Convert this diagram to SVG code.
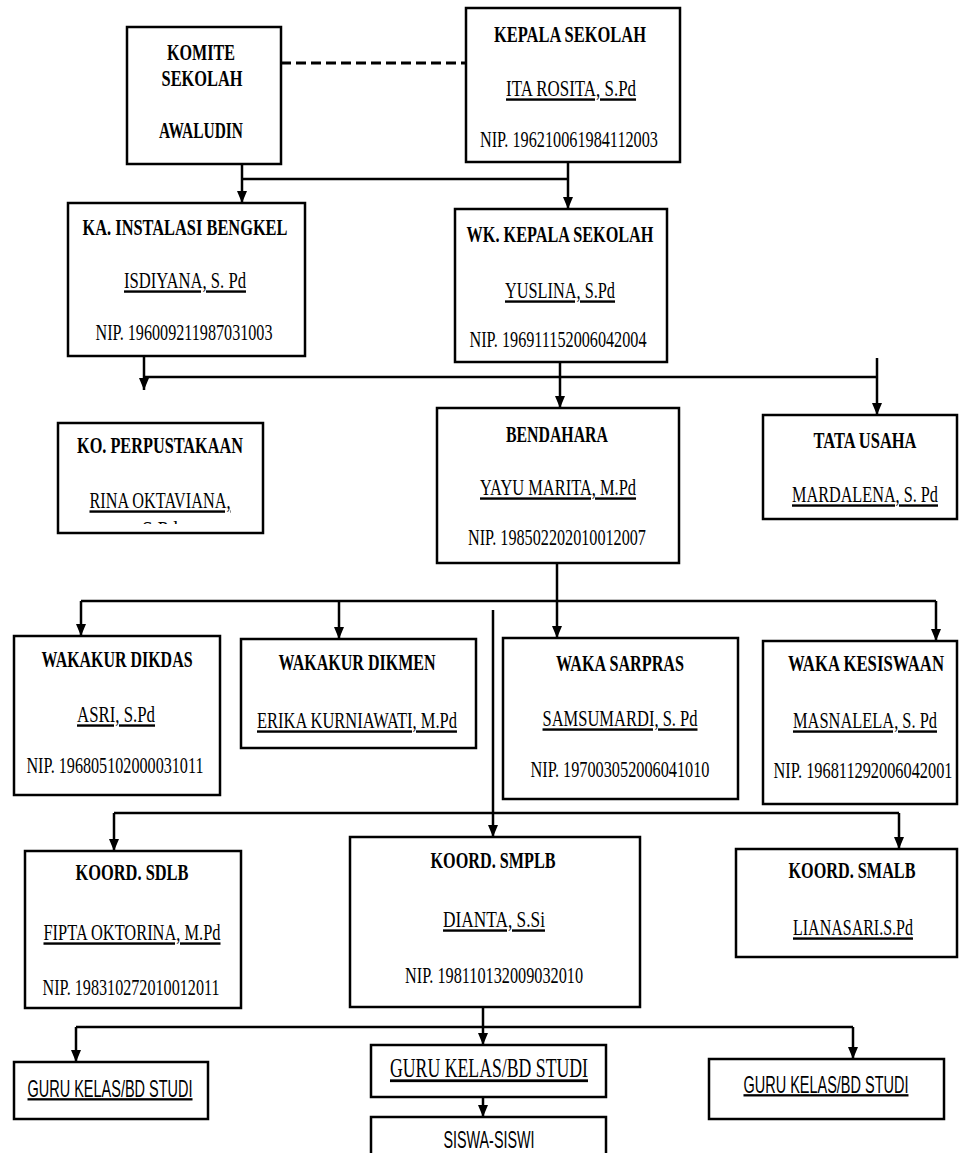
<svg xmlns="http://www.w3.org/2000/svg" width="962" height="1153" viewBox="0 0 962 1153">
<style>
.box{fill:#fff;stroke:#000;stroke-width:2.5}
.t{font-family:"Liberation Serif","Times New Roman",serif;font-size:24px;text-anchor:middle;fill:#000}
.b{font-weight:bold}
.u{text-decoration:underline}
.s{font-family:"Liberation Sans",Arial,sans-serif;font-size:23px;text-anchor:middle;fill:#000}
.c{fill:none;stroke:#000;stroke-width:2.5}
.d{fill:none;stroke:#000;stroke-width:3;stroke-dasharray:10 5}
</style>
<defs>
<marker id="ah" viewBox="0 0 12 10" refX="12" refY="5" markerWidth="12" markerHeight="10" markerUnits="userSpaceOnUse" orient="auto">
<path d="M0,0 L12,5 L0,10 z" fill="#000"/>
</marker>
<clipPath id="koclip"><rect x="88" y="423" width="310" height="101"/></clipPath>
</defs>
<rect width="962" height="1153" fill="#fff"/>

<g id="connectors">
<path class="d" d="M281,63 H466"/>
<path class="c" d="M242,164 V203" marker-end="url(#ah)"/>
<path class="c" d="M242,179 H568"/>
<path class="c" d="M568,162 V209" marker-end="url(#ah)"/>
<path class="c" d="M144,356 V390" marker-end="url(#ah)"/>
<path class="c" d="M144,377 H877"/>
<path class="c" d="M560,362 V408" marker-end="url(#ah)"/>
<path class="c" d="M877,358 V415" marker-end="url(#ah)"/>
<path class="c" d="M557,563 V638" marker-end="url(#ah)"/>
<path class="c" d="M81,601 H936"/>
<path class="c" d="M81,601 V636" marker-end="url(#ah)"/>
<path class="c" d="M339,601 V639" marker-end="url(#ah)"/>
<path class="c" d="M936,601 V641" marker-end="url(#ah)"/>
<path class="c" d="M493,610 V837" marker-end="url(#ah)"/>
<path class="c" d="M114,813 H899"/>
<path class="c" d="M114,813 V851" marker-end="url(#ah)"/>
<path class="c" d="M899,813 V849" marker-end="url(#ah)"/>
<path class="c" d="M483,1007 V1045" marker-end="url(#ah)"/>
<path class="c" d="M76,1027 H853"/>
<path class="c" d="M76,1027 V1062" marker-end="url(#ah)"/>
<path class="c" d="M853,1027 V1059" marker-end="url(#ah)"/>
<path class="c" d="M483,1097 V1117" marker-end="url(#ah)"/>
</g>

<g id="komite">
<rect class="box" x="127" y="27" width="154" height="137"/>
<g transform="scale(0.66 1)">
<text class="t b" x="304.5" y="60" textLength="103" lengthAdjust="spacingAndGlyphs">KOMITE</text>
<text class="t b" x="306.1" y="86" textLength="122.7" lengthAdjust="spacingAndGlyphs">SEKOLAH</text>
<text class="t b" x="304.5" y="138" textLength="127.3" lengthAdjust="spacingAndGlyphs">AWALUDIN</text>
</g>
</g>

<g id="kepala">
<rect class="box" x="466" y="8" width="214" height="154"/>
<g transform="scale(0.66 1)">
<text class="t b" x="863.6" y="42" textLength="230.3" lengthAdjust="spacingAndGlyphs">KEPALA SEKOLAH</text>
<text class="t u" x="865.2" y="96" textLength="197" lengthAdjust="spacingAndGlyphs">ITA ROSITA, S.Pd</text>
<text class="t" x="862.1" y="147" textLength="269.7" lengthAdjust="spacingAndGlyphs">NIP. 196210061984112003</text>
</g>
</g>

<g id="ka-instalasi">
<rect class="box" x="68" y="203" width="237" height="153"/>
<g transform="scale(0.66 1)">
<text class="t b" x="280.3" y="235" textLength="310.6" lengthAdjust="spacingAndGlyphs">KA. INSTALASI BENGKEL</text>
<text class="t u" x="280.3" y="288" textLength="184.8" lengthAdjust="spacingAndGlyphs">ISDIYANA, S. Pd</text>
<text class="t" x="278.8" y="340" textLength="268.2" lengthAdjust="spacingAndGlyphs">NIP. 196009211987031003</text>
</g>
</g>

<g id="wk-kepala">
<rect class="box" x="455" y="209" width="212" height="153"/>
<g transform="scale(0.66 1)">
<text class="t b" x="848.5" y="242" textLength="283.3" lengthAdjust="spacingAndGlyphs">WK. KEPALA SEKOLAH</text>
<text class="t u" x="848.5" y="298" textLength="166.7" lengthAdjust="spacingAndGlyphs">YUSLINA, S.Pd</text>
<text class="t" x="845.5" y="347" textLength="268.2" lengthAdjust="spacingAndGlyphs">NIP. 196911152006042004</text>
</g>
</g>

<g id="perpustakaan">
<rect class="box" x="58" y="423" width="205" height="110"/>
<g transform="scale(0.66 1)">
<text class="t b" x="242.4" y="453" textLength="251.5" lengthAdjust="spacingAndGlyphs">KO. PERPUSTAKAAN</text>
<text class="t u" x="242.4" y="508" textLength="213.6" lengthAdjust="spacingAndGlyphs">RINA OKTAVIANA,</text>
<text class="t u" x="242.4" y="537" textLength="54.5" lengthAdjust="spacingAndGlyphs" clip-path="url(#koclip)">S.Pd</text>
</g>
</g>

<g id="bendahara">
<rect class="box" x="437" y="408" width="242" height="155"/>
<g transform="scale(0.66 1)">
<text class="t b" x="843.9" y="442" textLength="154.5" lengthAdjust="spacingAndGlyphs">BENDAHARA</text>
<text class="t u" x="845.5" y="495" textLength="236.4" lengthAdjust="spacingAndGlyphs">YAYU MARITA, M.Pd</text>
<text class="t" x="843.9" y="545" textLength="269.7" lengthAdjust="spacingAndGlyphs">NIP. 198502202010012007</text>
</g>
</g>

<g id="tata-usaha">
<rect class="box" x="763" y="415" width="194" height="104"/>
<g transform="scale(0.66 1)">
<text class="t b" x="1310.6" y="448" textLength="156.1" lengthAdjust="spacingAndGlyphs">TATA USAHA</text>
<text class="t u" x="1310.6" y="502" textLength="221.2" lengthAdjust="spacingAndGlyphs">MARDALENA, S. Pd</text>
</g>
</g>

<g id="wakakur-dikdas">
<rect class="box" x="14" y="636" width="206" height="159"/>
<g transform="scale(0.66 1)">
<text class="t b" x="177.3" y="667" textLength="228.8" lengthAdjust="spacingAndGlyphs">WAKAKUR DIKDAS</text>
<text class="t u" x="175.8" y="722" textLength="118.2" lengthAdjust="spacingAndGlyphs">ASRI, S.Pd</text>
<text class="t" x="174.2" y="773" textLength="268.2" lengthAdjust="spacingAndGlyphs">NIP. 196805102000031011</text>
</g>
</g>

<g id="wakakur-dikmen">
<rect class="box" x="241" y="639" width="235" height="109"/>
<g transform="scale(0.66 1)">
<text class="t b" x="540.9" y="670" textLength="237.9" lengthAdjust="spacingAndGlyphs">WAKAKUR DIKMEN</text>
<text class="t u" x="540.9" y="728" textLength="303" lengthAdjust="spacingAndGlyphs">ERIKA KURNIAWATI, M.Pd</text>
</g>
</g>

<g id="waka-sarpras">
<rect class="box" x="503" y="638" width="235" height="161"/>
<g transform="scale(0.66 1)">
<text class="t b" x="939.4" y="671" textLength="193.9" lengthAdjust="spacingAndGlyphs">WAKA SARPRAS</text>
<text class="t u" x="939.4" y="726" textLength="234.8" lengthAdjust="spacingAndGlyphs">SAMSUMARDI, S. Pd</text>
<text class="t" x="939.4" y="777" textLength="271.2" lengthAdjust="spacingAndGlyphs">NIP. 197003052006041010</text>
</g>
</g>

<g id="waka-kesiswaan">
<rect class="box" x="763" y="641" width="194" height="163"/>
<g transform="scale(0.66 1)">
<text class="t b" x="1312.1" y="671" textLength="236.4" lengthAdjust="spacingAndGlyphs">WAKA KESISWAAN</text>
<text class="t u" x="1310.6" y="728" textLength="218.2" lengthAdjust="spacingAndGlyphs">MASNALELA, S. Pd</text>
<text class="t" x="1307.6" y="778" textLength="271.2" lengthAdjust="spacingAndGlyphs">NIP. 196811292006042001</text>
</g>
</g>

<g id="koord-sdlb">
<rect class="box" x="25" y="851" width="216" height="157"/>
<g transform="scale(0.66 1)">
<text class="t b" x="200" y="880" textLength="171.2" lengthAdjust="spacingAndGlyphs">KOORD. SDLB</text>
<text class="t u" x="200" y="940" textLength="268.2" lengthAdjust="spacingAndGlyphs">FIPTA OKTORINA, M.Pd</text>
<text class="t" x="198.5" y="995" textLength="268.2" lengthAdjust="spacingAndGlyphs">NIP. 198310272010012011</text>
</g>
</g>

<g id="koord-smplb">
<rect class="box" x="350" y="837" width="290" height="170"/>
<g transform="scale(0.66 1)">
<text class="t b" x="747" y="868" textLength="189.4" lengthAdjust="spacingAndGlyphs">KOORD. SMPLB</text>
<text class="t u" x="748.5" y="927" textLength="154.5" lengthAdjust="spacingAndGlyphs">DIANTA, S.Si</text>
<text class="t" x="748.5" y="983" textLength="269.7" lengthAdjust="spacingAndGlyphs">NIP. 198110132009032010</text>
</g>
</g>

<g id="koord-smalb">
<rect class="box" x="736" y="849" width="221" height="108"/>
<g transform="scale(0.66 1)">
<text class="t b" x="1290.9" y="878" textLength="192.4" lengthAdjust="spacingAndGlyphs">KOORD. SMALB</text>
<text class="t u" x="1292.4" y="935" textLength="181.8" lengthAdjust="spacingAndGlyphs">LIANASARI.S.Pd</text>
</g>
</g>

<g id="guru-left">
<rect class="box" x="14" y="1062" width="194" height="57"/>
<g transform="scale(0.66 1)">
<text class="s u" x="166.7" y="1097" textLength="250" lengthAdjust="spacingAndGlyphs">GURU KELAS/BD STUDI</text>
</g>
</g>

<g id="guru-center">
<rect class="box" x="371" y="1045" width="235" height="52"/>
<g transform="scale(0.66 1)">
<text class="t u" x="740.9" y="1077" style="font-size:28px" textLength="300" lengthAdjust="spacingAndGlyphs">GURU KELAS/BD STUDI</text>
</g>
</g>

<g id="guru-right">
<rect class="box" x="709" y="1059" width="235" height="60"/>
<g transform="scale(0.66 1)">
<text class="s u" x="1251.5" y="1093" textLength="250" lengthAdjust="spacingAndGlyphs">GURU KELAS/BD STUDI</text>
</g>
</g>

<g id="siswa">
<rect class="box" x="371" y="1117" width="235" height="50"/>
<g transform="scale(0.66 1)">
<text class="s" x="740.9" y="1148" textLength="137.9" lengthAdjust="spacingAndGlyphs">SISWA-SISWI</text>
</g>
</g>
</svg>
